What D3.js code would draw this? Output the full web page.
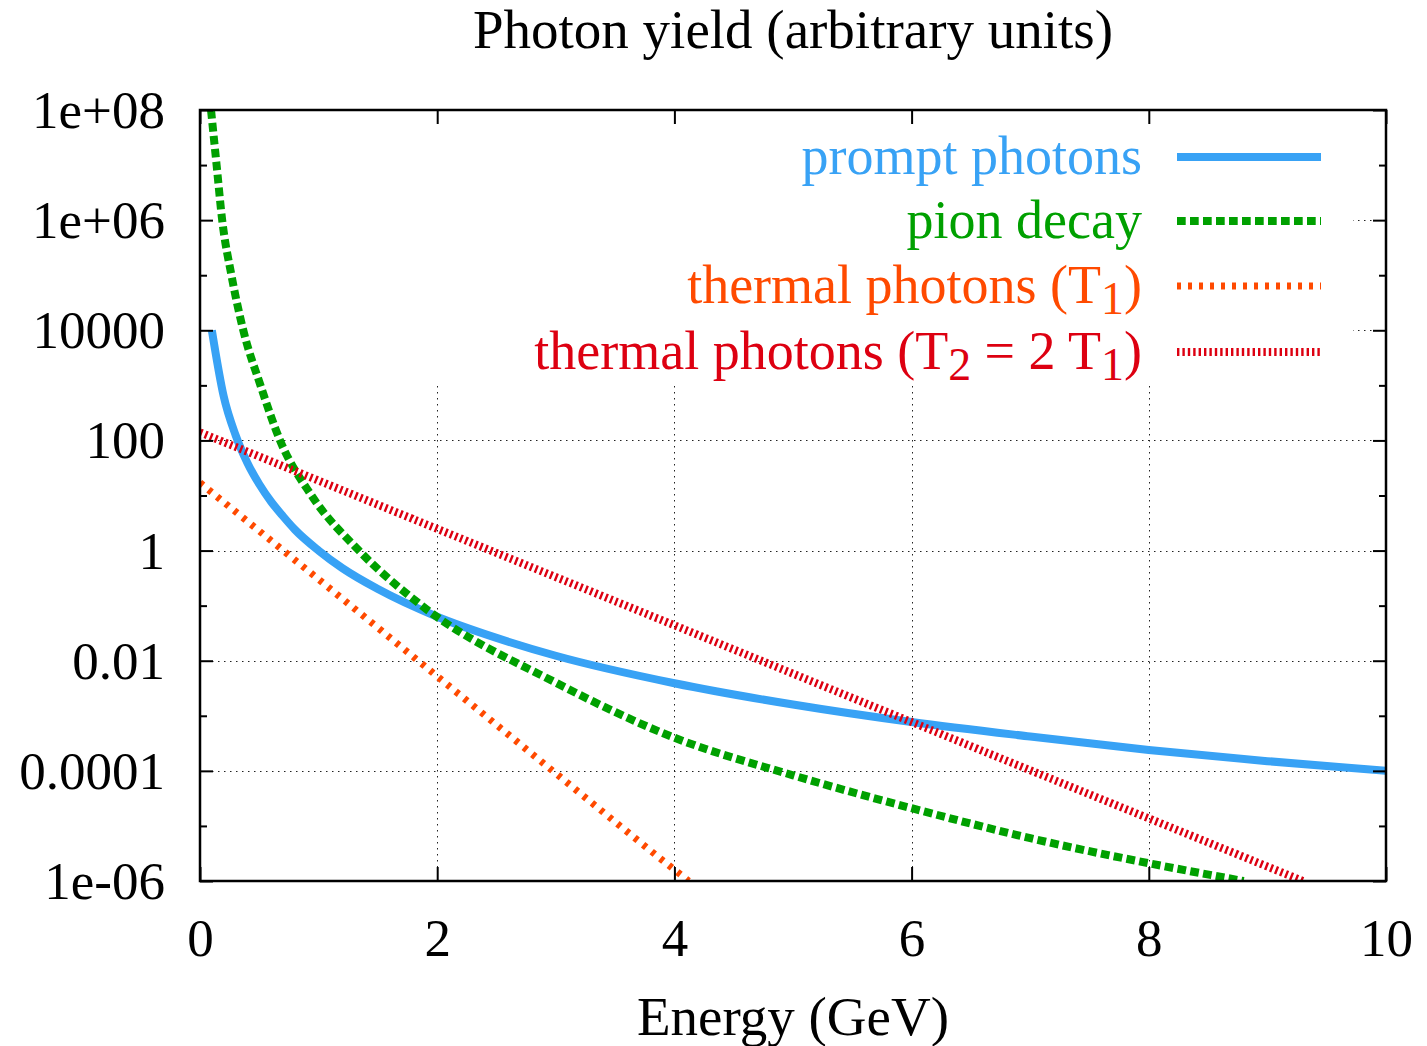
<!DOCTYPE html>
<html>
<head>
<meta charset="utf-8">
<script src="https://cdn.jsdelivr.net/npm/d3@7"></script>
<style>
  html, body { margin: 0; padding: 0; background: #fff; }
  svg { display: block; }
  text { font-family: "Liberation Serif", "Times New Roman", serif; }
</style>
</head>
<body>
<svg id="chart" width="1427" height="1046"></svg>
<script>
// ---------------- data ----------------
const xTicks = [0, 2, 4, 6, 8, 10];
const xTickLabels = ["0", "2", "4", "6", "8", "10"];
const yTicks = [1e8, 1e6, 1e4, 100, 1, 0.01, 1e-4, 1e-6];
const yTickLabels = ["1e+08", "1e+06", "10000", "100", "1", "0.01", "0.0001", "1e-06"];
const yMinorTicks = [1e7, 1e5, 1e3, 10, 0.1, 1e-3, 1e-5];

const promptE = [0.1, 0.2, 0.3, 0.4, 0.5, 0.6, 0.7, 0.8, 1.0, 1.2, 1.5, 2, 2.5, 3, 4, 5, 6, 7, 8, 9, 10];
const promptY = [1e4, 630, 125, 39, 16, 7.7, 4.2, 2.4, 1.0, 0.48, 0.2, 0.063, 0.026, 0.0123, 0.0039, 0.0016, 0.00077, 0.00042, 0.00024, 0.00015, 0.0001];

const pionE = [0.093, 0.14, 0.187, 0.265, 0.365, 0.51, 0.675, 0.94, 1.34, 1.87, 3, 4, 5, 6, 7, 8, 8.8];
const pionY = [1e8, 1e7, 1e6, 1e5, 1e4, 1e3, 100, 10, 1, 0.1, 0.004, 4e-4, 8.3e-5, 2.1e-5, 6e-6, 2.1e-6, 1e-6];

const thermal1E = [0, 1, 2, 3, 4, 4.12];
const thermal1Y = [17, 0.3, 0.0052, 9e-5, 1.6e-6, 1e-6];

const thermal2E = [0, 2, 4, 6, 8, 9.3];
const thermal2Y = [140, 2.48, 0.044, 7.7e-4, 1.37e-5, 1e-6];

const seriesNames = ["prompt photons", "pion decay", "thermal photons (T_1)", "thermal photons (T_2 = 2 T_1)"];
const titleText = "Photon yield (arbitrary units)";
const xLabelText = "Energy (GeV)";

// ---------------- layout ----------------
const svg = d3.select("#chart");
const L = 200, R = 1386, T = 110, B = 881;
const FS = 53, FS_LEG = 54, FS_TITLE = 55;

const x = d3.scaleLinear().domain([0, 10]).range([L, R]);
const y = d3.scaleLog().domain([1e-6, 1e8]).range([B, T]);

const series = [
  { name: seriesNames[0], E: promptE, V: promptY, color: "#38a2f5", width: 8, dash: null },
  { name: seriesNames[1], E: pionE, V: pionY, color: "#00a000", width: 8, dash: "8.7,4.3" },
  { name: seriesNames[2], E: thermal1E, V: thermal1Y, color: "#ff4a00", width: 7, dash: "4,7" },
  { name: seriesNames[3], E: thermal2E, V: thermal2Y, color: "#dd0011", width: 8, dash: "2.4,3" }
];

// clip
svg.append("defs").append("clipPath").attr("id", "plotclip")
  .append("rect").attr("x", L).attr("y", T).attr("width", R - L).attr("height", B - T);

// grid
const grid = svg.append("g").attr("stroke", "#222").attr("stroke-width", 1)
  .attr("stroke-dasharray", "1.5,4.5").attr("fill", "none");
yTicks.filter(v => v > 1e-6 && v < 1e8).forEach(v => {
  grid.append("line").attr("x1", L).attr("x2", R)
    .attr("y1", Math.round(y(v)) + 0.5).attr("y2", Math.round(y(v)) + 0.5);
});
xTicks.filter(v => v > 0 && v < 10).forEach(v => {
  grid.append("line").attr("y1", T).attr("y2", B)
    .attr("x1", Math.round(x(v)) + 0.5).attr("x2", Math.round(x(v)) + 0.5);
});

// opaque key box (hides grid under the legend)
svg.append("rect").attr("x", L + 1).attr("y", T + 1).attr("width", 1352 - L).attr("height", 385 - T)
  .attr("fill", "#fff");

// curves
const line = d3.line().x(d => x(d[0])).y(d => y(d[1])).curve(d3.curveMonotoneX);
const curves = svg.append("g").attr("clip-path", "url(#plotclip)");
series.forEach(s => {
  const pts = s.E.map((e, i) => [e, s.V[i]]);
  curves.append("path").attr("d", line(pts))
    .attr("fill", "none").attr("stroke", s.color).attr("stroke-width", s.width)
    .attr("stroke-dasharray", s.dash).attr("stroke-linecap", "butt").attr("stroke-linejoin", "round");
});

// axes (ticks inside, mirrored)
function styleAxis(g) {
  g.select(".domain").remove();
  g.selectAll(".tick line").attr("stroke", "#000").attr("stroke-width", 2);
  g.selectAll(".tick text").attr("font-size", FS).attr("fill", "#000")
    .attr("font-family", "Liberation Serif, Times New Roman, serif");
}
const yAxisL = d3.axisLeft(y).tickValues(yTicks).tickFormat((d, i) => yTickLabels[i])
  .tickSizeInner(-13).tickSizeOuter(0).tickPadding(35);
svg.append("g").attr("transform", `translate(${L},0)`).call(yAxisL).call(styleAxis)
  .selectAll(".tick text").attr("dy", "0.33em");
const yAxisLm = d3.axisLeft(y).tickValues(yMinorTicks).tickFormat("").tickSizeInner(-7).tickSizeOuter(0);
svg.append("g").attr("transform", `translate(${L},0)`).call(yAxisLm).call(styleAxis);
const yAxisR = d3.axisRight(y).tickValues(yTicks).tickFormat("").tickSizeInner(-13).tickSizeOuter(0);
svg.append("g").attr("transform", `translate(${R},0)`).call(yAxisR).call(styleAxis);
const yAxisRm = d3.axisRight(y).tickValues(yMinorTicks).tickFormat("").tickSizeInner(-7).tickSizeOuter(0);
svg.append("g").attr("transform", `translate(${R},0)`).call(yAxisRm).call(styleAxis);

const xAxisB = d3.axisBottom(x).tickValues(xTicks).tickFormat((d, i) => xTickLabels[i])
  .tickSizeInner(-14).tickSizeOuter(0).tickPadding(37);
svg.append("g").attr("transform", `translate(0,${B})`).call(xAxisB).call(styleAxis);
const xAxisT = d3.axisTop(x).tickValues(xTicks).tickFormat("").tickSizeInner(-14).tickSizeOuter(0);
svg.append("g").attr("transform", `translate(0,${T})`).call(xAxisT).call(styleAxis);

// border
svg.append("rect").attr("x", L).attr("y", T).attr("width", R - L).attr("height", B - T)
  .attr("fill", "none").attr("stroke", "#000").attr("stroke-width", 2.5);

// title & axis label
svg.append("text").attr("x", (L + R) / 2).attr("y", 48).attr("text-anchor", "middle")
  .attr("font-size", FS_TITLE).text(titleText);
svg.append("text").attr("x", (L + R) / 2).attr("y", 1035).attr("text-anchor", "middle")
  .attr("font-size", FS_TITLE).text(xLabelText);

// legend
const legY = [157, 221, 286, 352];
const legend = svg.append("g");
series.forEach((s, i) => {
  const t = legend.append("text").attr("x", 1142).attr("y", legY[i] + 17)
    .attr("text-anchor", "end").attr("font-size", FS_LEG).attr("fill", s.color);
  // parse "_x" subscripts
  const parts = s.name.split(/(_\d)/);
  let sub = false;
  parts.forEach(p => {
    if (!p) return;
    if (p.startsWith("_")) {
      t.append("tspan").attr("dy", 11).attr("font-size", FS_LEG * 0.85).text(p.slice(1));
      sub = true;
    } else {
      const ts = t.append("tspan").text(p);
      if (sub) { ts.attr("dy", -11); sub = false; }
    }
  });
  legend.append("line").attr("x1", 1177).attr("x2", 1321).attr("y1", legY[i]).attr("y2", legY[i])
    .attr("stroke", s.color).attr("stroke-width", s.width).attr("stroke-dasharray", s.dash);
});
</script>
</body>
</html>
